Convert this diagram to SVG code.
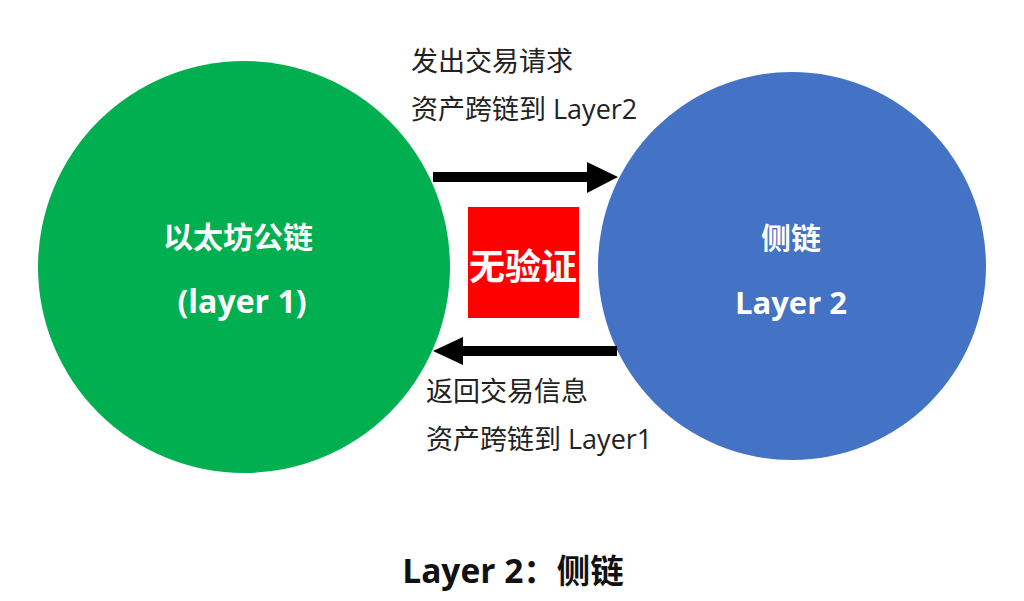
<svg xmlns="http://www.w3.org/2000/svg" width="1024" height="601" viewBox="0 0 1024 601">
  <style>
    text { font-family: "Open Sans", "Noto Sans CJK SC", sans-serif; }
    .lbl { font-size: 27px; fill: #222; }
    .node { font-size: 30px; font-weight: bold; fill: #fff; text-anchor: middle; }
    .title { font-size: 33.5px; font-weight: bold; fill: #111; text-anchor: middle; }
    .arrow { fill: #000; }
  </style>
  <rect width="1024" height="601" fill="#fff"/>
  <g id="node-ethereum">
    <circle cx="244" cy="267" r="206" fill="#00B050"/>
    <text class="node" x="238" y="248">以太坊公链</text>
    <text class="node" x="242" y="313" style="font-size:32px">(layer 1)</text>
  </g>
  <g id="node-sidechain">
    <circle cx="792" cy="266" r="194" fill="#4472C4"/>
    <text class="node" x="791" y="249">侧链</text>
    <text class="node" x="791" y="314" style="font-size:31px">Layer 2</text>
  </g>
  <g id="node-noverify">
    <rect x="468" y="207" width="111" height="111" fill="#FF0000"/>
    <text class="node" x="523" y="280" style="font-size:36px">无验证</text>
  </g>
  <g id="connectors">
    <polygon class="arrow" points="433,172 587,172 587,162 618,177 587,193 587,182 433,182"/>
    <polygon class="arrow" points="617,346 463,346 463,337 433,351 463,365 463,356 617,356"/>
  </g>
  <g id="labels">
    <text class="lbl" x="411" y="71">发出交易请求</text>
    <text class="lbl" x="411" y="119">资产跨链到 Layer2</text>
    <text class="lbl" x="426" y="401">返回交易信息</text>
    <text class="lbl" x="426" y="449">资产跨链到 Layer1</text>
  </g>
  <text class="title" x="513" y="583">Layer 2：侧链</text>
</svg>
